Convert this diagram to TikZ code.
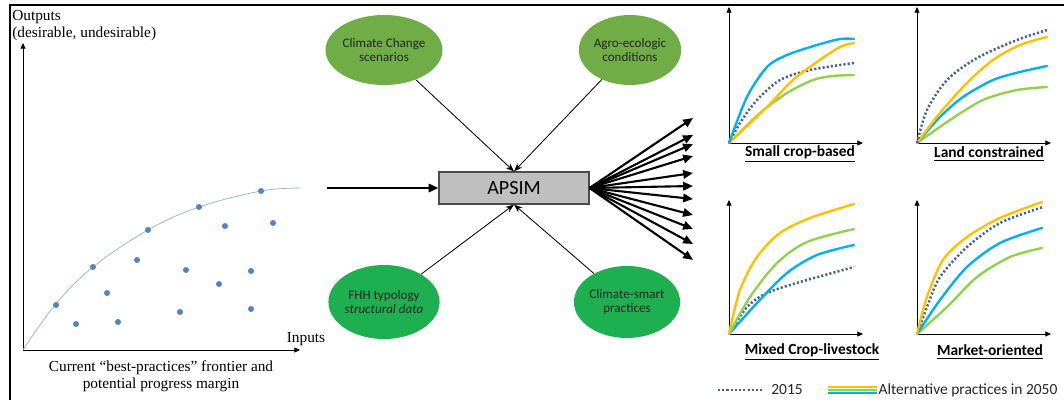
\documentclass[tikz,border=0pt]{standalone}
\usepackage{fontspec}
\setmainfont{Liberation Serif}
\setsansfont{Carlito}
\usetikzlibrary{shapes.geometric,arrows.meta}
\definecolor{leafgreen}{RGB}{112,173,71}
\definecolor{grassgreen}{RGB}{30,176,80}
\definecolor{dotblue}{RGB}{84,130,190}
\definecolor{frontblue}{RGB}{150,175,205}
\definecolor{altblue}{RGB}{0,176,240}
\definecolor{altorange}{RGB}{255,192,0}
\definecolor{altgreen}{RGB}{146,208,80}
\definecolor{baseblue}{RGB}{70,100,145}
\begin{document}
\begin{tikzpicture}[x=0.25mm,y=-0.25mm,
    input/.style={ellipse, minimum width=25mm, minimum height=17.5mm, inner sep=0pt,
      align=center, text=black!85, font=\sffamily\fontsize{9.3}{10.5}\selectfont},
    model/.style={draw=black!70, fill=black!25, line width=0.8pt, minimum width=37.5mm,
      minimum height=8mm, font=\sffamily\fontsize{14.3}{16}\selectfont},
    feed/.style={-{Stealth[length=6pt,width=4.5pt]}, line width=0.6pt},
    fan/.style={-{Triangle[length=7pt,width=6pt]}, line width=1.5pt},
    axis/.style={-{Triangle[length=4pt,width=3.5pt]}, line width=0.5pt},
    ptdot/.style={circle, fill=dotblue, inner sep=0pt, minimum size=1.5mm},
    sertext/.style={font=\fontsize{10.9}{11.8}\selectfont},
    typename/.style={font=\sffamily\bfseries\fontsize{11}{12}\selectfont},
    legtext/.style={font=\sffamily\fontsize{11}{12}\selectfont, text=black!85},
    base/.style={baseblue, line width=1.8pt, dash pattern=on 1.5pt off 1.5pt},
    alt/.style={line width=1.7pt, line cap=round}]
  \useasboundingbox (0,0) rectangle (1064,400);
  \draw[line width=1.4pt] (10,400) -- (10,5) -- (1064,5);

  % frontier plot
  \coordinate (po) at (23,350);
  \coordinate (py) at (23,43);
  \coordinate (px) at (300,350);
  \draw[axis] (po) -- (py);
  \draw[axis] (po) -- (px);
  \draw[frontblue, line width=0.5pt] plot[smooth, tension=0.6] coordinates
    {(23,350) (55,305) (93,267) (148,230) (199,207) (261,191) (300,188)};
  \foreach \x/\y [count=\i] in {56/305, 76/324, 93/267, 107/293, 118/322, 137/260,
      148/230, 180/312, 186/270, 199/207, 219/284, 225/226, 251/271, 251/309,
      261/191, 273/223}
    \node[ptdot] (d\i) at (\x,\y) {};
  \node[sertext, anchor=north west, align=left, inner sep=0pt] (outlab) at (12,10)
    {Outputs\\(desirable, undesirable)};
  \node[sertext] (inlab) at (306,339) {Inputs};
  \node[sertext, align=center, inner sep=0pt] (caption) at (161,376)
    {Current ``best-practices'' frontier and\\potential progress margin};

  % APSIM and its inputs
  \node[model] (apsim) at (514,188) {APSIM};
  \node[input, fill=leafgreen] (climate) at (384,50) {Climate Change\\scenarios};
  \node[input, fill=leafgreen] (agro) at (630,50) {Agro-ecologic\\conditions};
  \node[input, fill=grassgreen, minimum height=18.5mm] (fhh) at (384,302)
    {FHH typology\\\textit{structural data}};
  \node[input, fill=grassgreen, minimum height=18mm] (smart) at (627,302)
    {Climate-smart\\practices};
  \coordinate (front) at (327,188);
  \draw[fan] (front) -- (apsim.west);
  \draw[feed] (climate) -- (apsim.north);
  \draw[feed] (agro) -- (apsim.north);
  \draw[feed] (fhh) -- (apsim.south);
  \draw[feed] (smart) -- (apsim.south);
  \foreach \y [count=\i] in {118,135,144,156,173,186,199,215,229,244,260} {
    \coordinate (out\i) at (693,\y);
    \draw[fan] (apsim.east) -- (out\i);
  }

  % small crop-based
  \begin{scope}[shift={(729,143)}]
    \coordinate (ao) at (0,0);
    \coordinate (ay) at (0,-136);
    \coordinate (ax) at (134,0);
    \draw[axis] (ao) -- (ay);
    \draw[axis] (ao) -- (ax);
    \draw[alt, altgreen] plot[smooth] coordinates {(0,0) (31,-30) (58,-50) (84,-63) (104,-67) (125,-68)};
    \draw[base] plot[smooth] coordinates {(0,0) (11,-20) (28,-43) (51,-63) (81,-73) (125,-80)};
    \draw[alt, altorange] plot[smooth] coordinates {(0,0) (38,-36) (64,-63) (88,-81) (111,-96) (125,-100)};
    \draw[alt, altblue] plot[smooth] coordinates {(0,0) (18,-46) (38,-76) (58,-88) (88,-98) (111,-104) (125,-104)};
    \node[typename] (smallcrop) at (71,11) {\underline{Small crop-based}};
  \end{scope}

  % land constrained
  \begin{scope}[shift={(917,143)}]
    \coordinate (bo) at (0,0);
    \coordinate (by) at (0,-136);
    \coordinate (bx) at (134,0);
    \draw[axis] (bo) -- (by);
    \draw[axis] (bo) -- (bx);
    \draw[alt, altgreen] plot[smooth] coordinates {(0,0) (33,-23) (66,-43) (100,-53) (130,-56)};
    \draw[alt, altblue] plot[smooth] coordinates {(0,0) (23,-26) (46,-46) (76,-63) (103,-71) (130,-77)};
    \draw[alt, altorange] plot[smooth] coordinates {(0,0) (23,-30) (50,-60) (76,-83) (103,-98) (130,-106)};
    \draw[base] plot[smooth] coordinates {(0,0) (10,-33) (30,-63) (60,-85) (100,-103) (130,-113)};
    \node[typename] (landcons) at (72,11) {\underline{Land constrained}};
  \end{scope}

  % mixed crop-livestock
  \begin{scope}[shift={(729,334)}]
    \coordinate (co) at (0,0);
    \coordinate (cy) at (0,-134);
    \coordinate (cx) at (134,0);
    \draw[axis] (co) -- (cy);
    \draw[axis] (co) -- (cx);
    \draw[base] plot[smooth] coordinates {(0,0) (18,-27) (38,-41) (71,-52) (125,-67)};
    \draw[alt, altblue] plot[smooth] coordinates {(0,0) (28,-31) (58,-61) (88,-79) (125,-89)};
    \draw[alt, altgreen] plot[smooth] coordinates {(0,0) (21,-37) (48,-71) (78,-92) (125,-105)};
    \draw[alt, altorange] plot[smooth] coordinates {(0,0) (11,-44) (28,-77) (51,-101) (81,-116) (125,-130)};
    \node[typename] (mixedcl) at (83,18) {\underline{Mixed Crop-livestock}};
  \end{scope}

  % market-oriented
  \begin{scope}[shift={(917,334)}]
    \coordinate (eo) at (0,0);
    \coordinate (ey) at (0,-134);
    \coordinate (ex) at (134,0);
    \draw[axis] (eo) -- (ey);
    \draw[axis] (eo) -- (ex);
    \draw[alt, altgreen] plot[smooth] coordinates {(0,0) (30,-27) (60,-57) (93,-77) (125,-86)};
    \draw[alt, altblue] plot[smooth] coordinates {(0,0) (23,-34) (50,-67) (83,-91) (125,-106)};
    \draw[base] plot[smooth] coordinates {(0,0) (10,-27) (23,-57) (50,-87) (83,-111) (126,-127)};
    \draw[alt, altorange] plot[smooth] coordinates {(0,0) (10,-37) (26,-74) (50,-97) (83,-116) (125,-132)};
    \node[typename] (market) at (73,18) {\underline{Market-oriented}};
  \end{scope}

  % legend
  \coordinate (la) at (718,390);
  \coordinate (lb) at (763,390);
  \draw[base] (la) -- (lb);
  \node[legtext] (year) at (787,390) {2015};
  \coordinate (lc) at (828,387);
  \coordinate (ld) at (877,387);
  \draw[altorange, line width=1.5pt] (lc) -- (ld);
  \draw[altgreen, line width=1.5pt] ([yshift=-2.2] lc) -- ([yshift=-2.2] ld);
  \draw[altblue, line width=1.5pt] ([yshift=-4.4] lc) -- ([yshift=-4.4] ld);
  \node[legtext, anchor=west, inner sep=1pt] (altlab) at (877,390) {Alternative practices in 2050};
\end{tikzpicture}
\end{document}
